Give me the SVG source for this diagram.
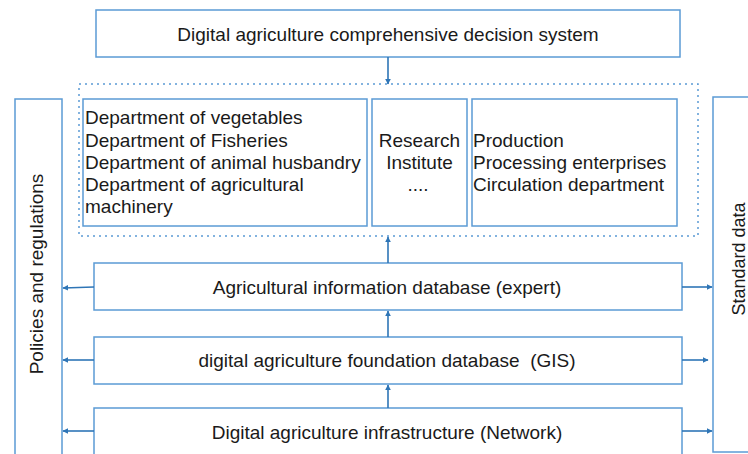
<svg xmlns="http://www.w3.org/2000/svg" width="748" height="454" viewBox="0 0 748 454">
<defs>
<style>
.box{fill:#fff;stroke:#5B9BD5;stroke-width:1.5}
.dot{fill:none;stroke:#5B9BD5;stroke-width:1.5;stroke-dasharray:2 4}
.t{font-family:"Liberation Sans",Arial,sans-serif;font-size:19px;fill:#1a1a1a}
.c{text-anchor:middle}
.arr{stroke:#2E75B6;stroke-width:1.6;fill:none;marker-end:url(#ah)}
</style>
<marker id="ah" viewBox="0 0 10 10" refX="9" refY="5" markerWidth="6" markerHeight="6" markerUnits="userSpaceOnUse" orient="auto">
<path d="M0,0 L10,5 L0,10 Z" fill="#2E75B6"/>
</marker>
</defs>
<rect width="748" height="454" fill="#fff"/>
<g id="decision">
<rect class="box" x="96" y="10" width="584" height="47"/>
<text class="t c" x="388" y="41">Digital agriculture comprehensive decision system</text>
</g>
<g id="container">
<rect class="dot" x="79" y="84" width="619" height="152"/>
</g>
<g id="departments">
<rect class="box" x="83" y="99" width="284" height="127"/>
<text class="t" x="85" y="124">Department of vegetables</text>
<text class="t" x="85" y="147">Department of Fisheries</text>
<text class="t" x="85" y="169">Department of animal husbandry</text>
<text class="t" x="85" y="191">Department of agricultural</text>
<text class="t" x="85" y="213">machinery</text>
</g>
<g id="research">
<rect class="box" x="372" y="99" width="95" height="127"/>
<text class="t c" x="419.5" y="147">Research</text>
<text class="t c" x="419.5" y="169">Institute</text>
<text class="t c" x="418" y="191">....</text>
</g>
<g id="production">
<rect class="box" x="472" y="99" width="205" height="127"/>
<text class="t" x="473" y="147">Production</text>
<text class="t" x="473" y="169">Processing enterprises</text>
<text class="t" x="473" y="191">Circulation department</text>
</g>
<g id="policies">
<rect class="box" x="15" y="99" width="47" height="370"/>
<text class="t c" transform="translate(43,274) rotate(-90)">Policies and regulations</text>
</g>
<g id="standard">
<rect class="box" x="713" y="97" width="60" height="355"/>
<text class="t c" style="font-size:18px" transform="translate(745,259) rotate(-90)">Standard data</text>
</g>
<g id="infodb">
<rect class="box" x="94" y="263" width="588" height="47"/>
<text class="t c" x="387" y="294">Agricultural information database (expert)</text>
</g>
<g id="foundationdb">
<rect class="box" x="94" y="337" width="588" height="47"/>
<text class="t c" x="387" y="367" xml:space="preserve">digital agriculture foundation database  (GIS)</text>
</g>
<g id="infrastructure">
<rect class="box" x="94" y="408" width="588" height="60"/>
<text class="t c" x="387" y="439">Digital agriculture infrastructure (Network)</text>
</g>
<g id="connectors">
<line class="arr" x1="388" y1="57" x2="388" y2="84"/>
<line class="arr" x1="388" y1="263" x2="388" y2="237"/>
<line class="arr" x1="388" y1="337" x2="388" y2="311"/>
<line class="arr" x1="388" y1="408" x2="388" y2="385"/>
<line class="arr" x1="94" y1="287" x2="63" y2="288"/>
<line class="arr" x1="94" y1="360" x2="63" y2="360"/>
<line class="arr" x1="94" y1="431" x2="63" y2="431"/>
<line class="arr" x1="682" y1="287" x2="712" y2="287"/>
<line class="arr" x1="682" y1="360" x2="708" y2="360"/>
<line class="arr" x1="682" y1="431" x2="712" y2="431"/>
</g>
</svg>
